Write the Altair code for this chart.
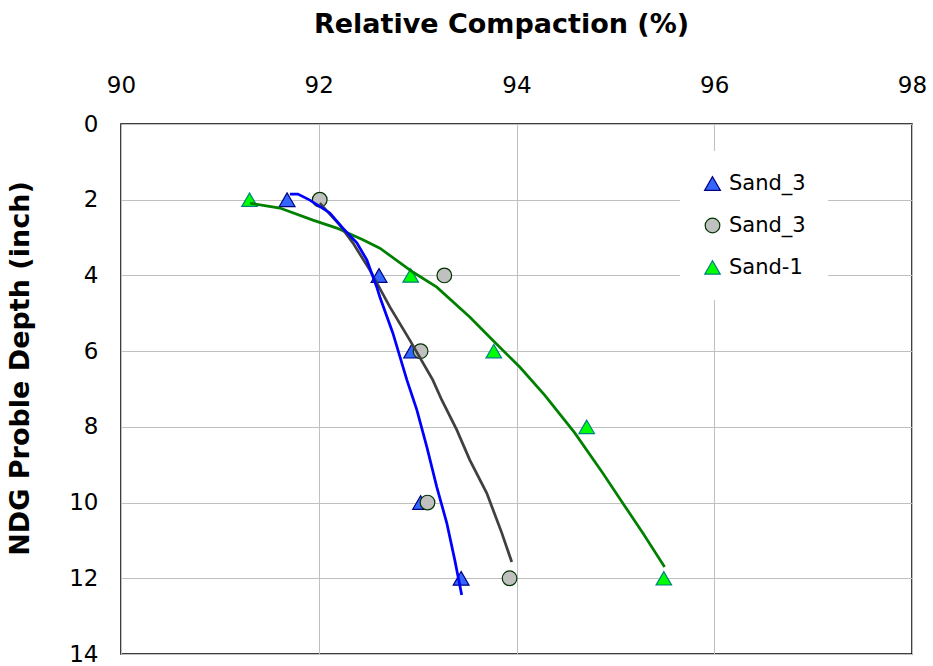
import altair as alt
import pandas as pd

# ---- data ----
depth_pts = [2, 4, 6, 10, 12]
sand3a_x = [91.68, 92.61, 92.94, 93.03, 93.44]          # blue triangles
sand3b_x = [92.01, 93.27, 93.03, 93.10, 93.93]          # grey circles
sand1_depth = [2, 4, 6, 8, 12]
sand1_x = [91.30, 92.93, 93.77, 94.71, 95.49]           # green triangles

# trend curves
blue_x = [91.708, 91.789, 91.910, 92.112, 92.244, 92.385, 92.486, 92.587, 92.618,
          92.749, 92.891, 92.992, 93.093, 93.194, 93.295, 93.376, 93.446]
blue_y = [1.85, 1.85, 2.01, 2.35, 2.75, 3.14, 3.59, 4.31, 4.57,
          5.52, 6.76, 7.55, 8.53, 9.59, 10.54, 11.52, 12.44]
grey_x = [92.011, 92.213, 92.345, 92.517, 92.719, 92.921, 93.153, 93.244, 93.396,
          93.527, 93.699, 93.851, 93.952]
grey_y = [2.09, 2.67, 3.14, 3.86, 4.83, 5.71, 6.76, 7.29, 8.08,
          8.87, 9.75, 10.80, 11.57]
green_x = [91.304, 91.607, 91.941, 92.183, 92.446, 92.618, 92.951, 93.194, 93.527,
           93.760, 94.033, 94.285, 94.589, 94.872, 95.074, 95.276, 95.498]
green_y = [2.09, 2.22, 2.54, 2.75, 3.06, 3.28, 3.91, 4.31, 5.10,
           5.71, 6.42, 7.16, 8.16, 9.22, 10.01, 10.80, 11.70]

series_keys = ["S3a", "S3b", "S1"]
series_fill = ["#3366FF", "#C0C0C0", "#00FF00"]
series_stroke = ["#000080", "#003300", "#008080"]
series_shape = ["triangle-up", "circle", "triangle-up"]
series_size = [250, 215, 240]

x_ticks = [90, 92, 94, 96, 98]
y_ticks = [0, 2, 4, 6, 8, 10, 12, 14]

# ---- tables ----
pts = pd.concat([
    pd.DataFrame({"x": sand3a_x, "y": depth_pts, "s": "S3a", "o": 0}),
    pd.DataFrame({"x": sand3b_x, "y": depth_pts, "s": "S3b", "o": 1}),
    pd.DataFrame({"x": sand1_x, "y": sand1_depth, "s": "S1", "o": 2}),
])
curves = pd.concat([
    pd.DataFrame({"x": green_x, "y": green_y, "c": "green", "i": range(len(green_x))}),
    pd.DataFrame({"x": grey_x, "y": grey_y, "c": "grey", "i": range(len(grey_x))}),
    pd.DataFrame({"x": blue_x, "y": blue_y, "c": "blue", "i": range(len(blue_x))}),
])

FONT = "DejaVu Sans"

xaxis = alt.Axis(orient="top", values=x_ticks, format="d", title="Relative Compaction (%)",
                 ticks=False, domain=False, labelPadding=27, titlePadding=36, labelFlush=False,
                 titleX=380,
                 grid=True, gridColor="#C0C0C0", gridWidth=1,
                 labelFont=FONT, labelFontSize=23, labelColor="black",
                 titleFont=FONT, titleFontSize=27, titleFontWeight="bold", titleColor="black")
yaxis = alt.Axis(values=y_ticks, format="d", title="NDG Proble Depth (inch)",
                 ticks=False, domain=False, labelPadding=23, titlePadding=34, labelFlush=False,
                 titleY=244,
                 grid=True, gridColor="#C0C0C0", gridWidth=1,
                 labelFont=FONT, labelFontSize=23, labelColor="black",
                 titleFont=FONT, titleFontSize=27, titleFontWeight="bold", titleColor="black")
xscale = alt.Scale(domain=[90, 98], nice=False, zero=False)
yscale = alt.Scale(domain=[0, 14], reverse=True, nice=False, zero=False)

NB = "\u00a0\u00a0\u00a0\u00a0"
points = alt.Chart(pts).mark_point(filled=True, opacity=1, strokeWidth=1.2).encode(
    x=alt.X("x:Q", scale=xscale, axis=xaxis),
    y=alt.Y("y:Q", scale=yscale, axis=yaxis),
    fill=alt.Fill("s:N", scale=alt.Scale(domain=series_keys, range=series_fill),
                  legend=alt.Legend(title=None, orient="none", legendX=559, legendY=27,
                                    labelExpr="(datum.value == 'S1' ? 'Sand-1' : 'Sand_3') + '" + NB + "'",
                                    labelFont=FONT, labelFontSize=21, labelColor="black",
                                    rowPadding=20, labelOffset=6,
                                    fillColor="white", padding=22, symbolStrokeWidth=1.2)),
    stroke=alt.Stroke("s:N", scale=alt.Scale(domain=series_keys, range=series_stroke)),
    shape=alt.Shape("s:N", scale=alt.Scale(domain=series_keys, range=series_shape)),
    size=alt.Size("s:N", scale=alt.Scale(type="ordinal", domain=series_keys, range=series_size)),
    order="o:Q",
)

def curve(name, color):
    return alt.Chart(curves).transform_filter(alt.datum.c == name).mark_line(
        color=color, strokeWidth=2.75).encode(
        x=alt.X("x:Q", scale=xscale, axis=xaxis),
        y=alt.Y("y:Q", scale=yscale, axis=yaxis),
        order="i:Q")

chart = alt.layer(
    points,
    curve("green", "#008000"),
    curve("grey", "#404040"),
    curve("blue", "#0000FF"),
).properties(
    width=791, height=530,
    background="white",
    autosize=alt.AutoSizeParams(type="none"),
    padding={"left": 121, "top": 124, "right": 21, "bottom": 12},
).configure_view(
    stroke="black", strokeWidth=1.5
)

chart.save("out.html", embed_options={"renderer": "svg", "actions": False})
